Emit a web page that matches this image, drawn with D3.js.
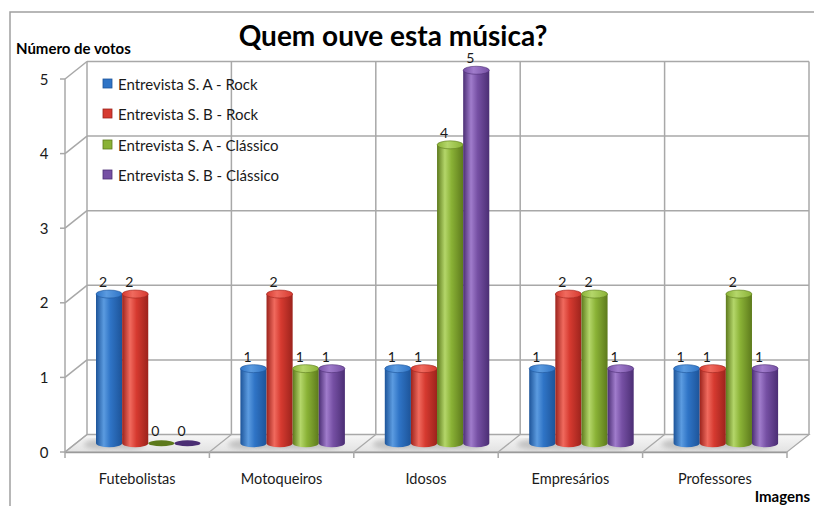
<!DOCTYPE html>
<html><head><meta charset="utf-8">
<script src="https://cdn.jsdelivr.net/npm/d3@7"></script>
<style>body{margin:0;background:#fff}svg{display:block}text{font-family:Lato,"Open Sans",sans-serif}</style>
</head><body><svg id="c" width="814" height="506"></svg>
<script>
const categories = ["Futebolistas","Motoqueiros","Idosos","Empresários","Professores"];
const seriesNames = ["Entrevista S. A - Rock","Entrevista S. B - Rock","Entrevista S. A - Clássico","Entrevista S. B - Clássico"];
const rockA = [2,1,1,1,1];
const rockB = [2,2,1,2,1];
const classicoA = [0,1,4,2,2];
const classicoB = [0,1,5,1,1];
const yTicks = [0,1,2,3,4,5];
const seriesColors = [
  {dark:"#1d5499", mid:"#2f74c6", light:"#5b9be0", top:"#3f86d6"},
  {dark:"#9c231c", mid:"#d63a30", light:"#f06a5e", top:"#e04a40"},
  {dark:"#5d7a1c", mid:"#8ab236", light:"#b4d66a", top:"#9cc244"},
  {dark:"#4b2e74", mid:"#7650a4", light:"#a07ccc", top:"#8660b2"}
];
const seriesValues = [rockA, rockB, classicoA, classicoB];

const svg = d3.select("#c");
const DX = 22, DY = -17.5;
const y = d3.scaleLinear().domain([0,5]).range([452,79]);
const x0 = d3.scaleBand().domain(categories).range([65,787]);
const x1 = d3.scaleBand().domain(seriesNames).range([20,124.5]);
const grid = "#a8a8a8";

// outer border
svg.append("path").attr("d","M10,520 L10,12 L820,12").attr("fill","none").attr("stroke","#a0a0a0").attr("stroke-width",1.5);

const defs = svg.append("defs");
seriesColors.forEach((c,i)=>{
  const g = defs.append("linearGradient").attr("id","g"+i).attr("x1","0").attr("x2","1").attr("y1","0").attr("y2","0");
  [[0,c.dark],[0.3,c.light],[0.55,c.mid],[1,c.dark]].forEach(s=>g.append("stop").attr("offset",s[0]).attr("stop-color",s[1]));
  const t = defs.append("linearGradient").attr("id","t"+i).attr("x1","0").attr("x2","1").attr("y1","0").attr("y2","0");
  [[0,c.mid],[0.4,c.light],[1,c.mid]].forEach(s=>t.append("stop").attr("offset",s[0]).attr("stop-color",s[1]));
});
const fg = defs.append("linearGradient").attr("id","floor").attr("x1","0").attr("x2","0").attr("y1","0").attr("y2","1");
fg.append("stop").attr("offset",0).attr("stop-color","#f7f7f7");
fg.append("stop").attr("offset",1).attr("stop-color","#e2e2e2");
defs.append("filter").attr("id","blur").append("feGaussianBlur").attr("stdDeviation",2.5);

const xL = x0.range()[0], xR = x0.range()[1];
// floor
svg.append("polygon")
  .attr("points",[[xL,y(0)],[xR,y(0)],[xR+DX,y(0)+DY],[xL+DX,y(0)+DY]].map(p=>p.join(",")).join(" "))
  .attr("fill","url(#floor)").attr("stroke",grid).attr("stroke-width",1.2);
svg.append("line").attr("x1",xL).attr("x2",xR).attr("y1",y(0)+0.5).attr("y2",y(0)+0.5).attr("stroke","#9a9a9a").attr("stroke-width",1.5);

// back wall horizontal gridlines
svg.append("g").selectAll("line").data(yTicks).join("line")
  .attr("x1",xL+DX).attr("x2",xR+DX).attr("y1",d=>y(d)+DY).attr("y2",d=>y(d)+DY)
  .attr("stroke",grid).attr("stroke-width",1.5);
// left wall diagonals
svg.append("g").selectAll("line").data(yTicks).join("line")
  .attr("x1",xL).attr("x2",xL+DX).attr("y1",d=>y(d)).attr("y2",d=>y(d)+DY)
  .attr("stroke",grid).attr("stroke-width",1.5);
// vertical edges
const bounds = categories.map(c=>x0(c)).concat([xR]);
svg.append("g").selectAll("line").data(bounds).join("line")
  .attr("x1",d=>d+DX).attr("x2",d=>d+DX).attr("y1",y(5)+DY).attr("y2",y(0)+DY)
  .attr("stroke",grid).attr("stroke-width",1.5);
svg.append("line").attr("x1",xL).attr("x2",xL).attr("y1",y(5)).attr("y2",y(0)).attr("stroke",grid).attr("stroke-width",1.5);
// floor diagonals & ticks
svg.append("g").selectAll("line").data(bounds.slice(1,-1)).join("line")
  .attr("x1",d=>d).attr("x2",d=>d+DX).attr("y1",y(0)).attr("y2",y(0)+DY)
  .attr("stroke",grid).attr("stroke-width",1.2);
svg.append("g").selectAll("line").data(bounds).join("line")
  .attr("x1",d=>d).attr("x2",d=>d).attr("y1",y(0)).attr("y2",y(0)+6)
  .attr("stroke",grid).attr("stroke-width",1.5);
// y ticks
svg.append("g").selectAll("line").data(yTicks).join("line")
  .attr("x1",xL-5).attr("x2",xL).attr("y1",d=>y(d)).attr("y2",d=>y(d))
  .attr("stroke",grid).attr("stroke-width",1.5);
svg.append("g").selectAll("text").data(yTicks).join("text")
  .attr("x",44).attr("y",d=>y(d)+5.5).attr("text-anchor","middle")
  .attr("font-size",15).attr("fill","#1a1a1a").text(d=>d);

// bars
const MX = DX/2, MY = DY/2, RY = 4;
const bars = [];
categories.forEach((c,ci)=>seriesNames.forEach((s,si)=>{
  bars.push({c, s, si, v: seriesValues[si][ci]});
}));
const gb = svg.append("g");
// shadows
gb.selectAll("ellipse.sh").data(bars.filter(d=>d.v>0)).join("ellipse")
  .attr("cx",d=>x0(d.c)+MX+x1(d.s)+x1.bandwidth()/2-8).attr("cy",y(0)+MY+1)
  .attr("rx",x1.bandwidth()/2+4).attr("ry",5).attr("fill","#777").attr("opacity",0.35).attr("filter","url(#blur)");
bars.forEach(d=>{
  const bx = x0(d.c)+MX+x1(d.s), w = x1.bandwidth(), rx = w/2;
  const by = y(0)+MY, ty = y(d.v)+MY;
  const c = seriesColors[d.si];
  if (d.v > 0) {
    gb.append("path")
      .attr("d",`M${bx},${ty} L${bx},${by} A${rx},${RY} 0 0 0 ${bx+w},${by} L${bx+w},${ty} Z`)
      .attr("fill",`url(#g${d.si})`);
    gb.append("ellipse").attr("cx",bx+rx).attr("cy",ty).attr("rx",rx).attr("ry",RY)
      .attr("fill",`url(#t${d.si})`).attr("stroke",c.dark).attr("stroke-width",0.6);
  } else {
    gb.append("ellipse").attr("cx",bx+rx).attr("cy",by).attr("rx",rx).attr("ry",RY-1)
      .attr("fill",c.dark);
  }
  gb.append("text").attr("x",bx+rx-6).attr("y",ty-RY-3).attr("text-anchor","middle")
    .attr("font-size",14).attr("fill","#1a1a1a").text(d.v);
});

// category labels
svg.append("g").selectAll("text").data(categories).join("text")
  .attr("x",d=>x0(d)+x0.bandwidth()/2).attr("y",484).attr("text-anchor","middle")
  .attr("font-size",14.5).attr("fill","#1a1a1a").text(d=>d);

// legend
const lg = svg.append("g");
const rowY = [84,114,145,175];
seriesNames.forEach((s,i)=>{
  const c = seriesColors[i];
  lg.append("rect").attr("x",103).attr("y",rowY[i]-5).attr("width",9).attr("height",9)
    .attr("fill",c.mid).attr("stroke",c.dark).attr("stroke-width",0.8);
  lg.append("text").attr("x",118).attr("y",rowY[i]+5.5).attr("font-size",15).attr("fill","#1a1a1a").text(s);
});

// titles
svg.append("text").attr("x",393).attr("y",46).attr("text-anchor","middle")
  .attr("font-size",28).attr("font-weight","bold").attr("fill","#000").text("Quem ouve esta música?");
svg.append("text").attr("x",16).attr("y",54).attr("font-size",15).attr("font-weight","bold").attr("fill","#000").text("Número de votos");
svg.append("text").attr("x",810).attr("y",502).attr("text-anchor","end").attr("font-size",15).attr("font-weight","bold").attr("fill","#000").text("Imagens");
</script></body></html>
